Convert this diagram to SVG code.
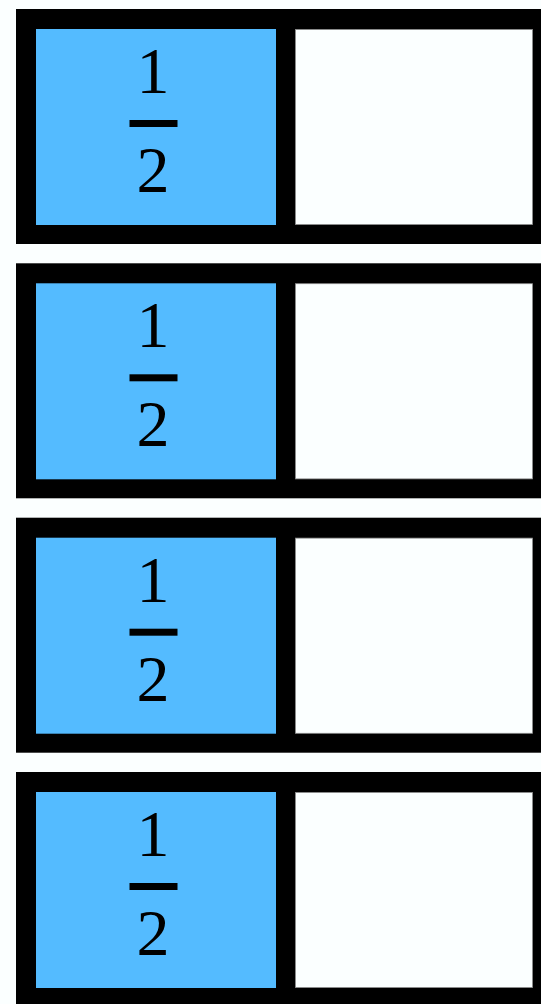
<svg xmlns="http://www.w3.org/2000/svg" width="541" height="1004" viewBox="0 0 541 1004">
<style>
.frame{fill:#000}
.blue{fill:#54bbff}
.empty{fill:#fbffff;stroke:#888;stroke-width:0.8}
.num{font-family:"Liberation Serif","Times New Roman",serif;font-size:66px;fill:#000;text-anchor:middle}
.bar{fill:#000}
</style>
<defs>
<g id="row">
<rect class="frame" x="16" y="0" width="540" height="235"/>
<rect class="blue" x="36" y="20" width="240" height="196"/>
<rect class="empty" x="295.4" y="20.4" width="237.2" height="195.2"/>
<text class="num" x="153" y="84">1</text>
<rect class="bar" x="129.5" y="111" width="48" height="7"/>
<text class="num" x="153" y="183">2</text>
</g>
</defs>
<rect width="541" height="1004" fill="#fbffff"/>
<g id="row1"><use href="#row" x="0" y="9"/></g>
<g id="row2"><use href="#row" x="0" y="263.3"/></g>
<g id="row3"><use href="#row" x="0" y="517.7"/></g>
<g id="row4"><use href="#row" x="0" y="772"/></g>
<g id="connectors"/>
</svg>
